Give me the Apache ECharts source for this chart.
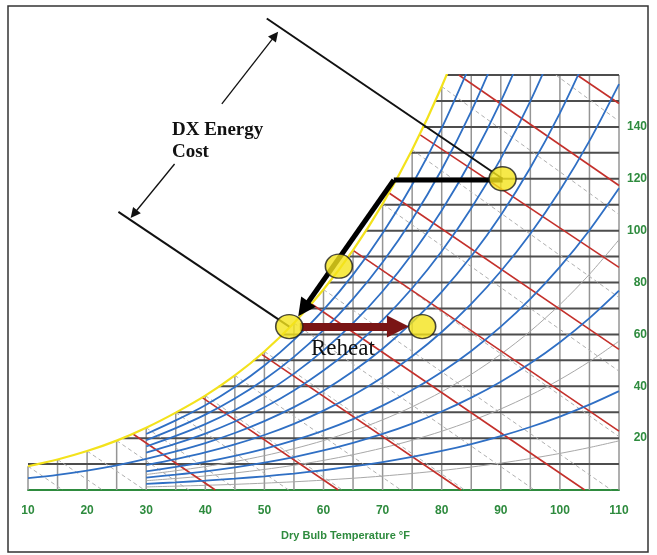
<!DOCTYPE html>
<html>
<head>
<meta charset="utf-8">
<title>Psychrometric chart – DX cooling with reheat</title>
<script src="https://cdn.jsdelivr.net/npm/echarts@6/dist/echarts.min.js"></script>
<style>
  html, body { margin: 0; padding: 0; background: #fff; }
  #chart { width: 657px; height: 555px; }
</style>
</head>
<body>
<div id="chart"></div>
<script>
// dry bulb temperatures (°F) used by the relative humidity curves
var rhTemps = [30, 35, 40, 45, 50, 55, 60, 65, 70, 75, 80, 85, 90, 95, 100, 105, 110];

// humidity ratio (grains/lb) along each blue RH curve
var rh10 = [2.39, 2.96, 3.61, 4.38, 5.28, 6.35, 7.61, 9.07, 10.78, 12.77, 15.07, 17.73, 20.79, 24.29, 28.31, 32.89, 38.10];
var rh20 = [4.78, 5.93, 7.22, 8.76, 10.58, 12.72, 15.24, 18.18, 21.62, 25.62, 30.25, 35.61, 41.77, 48.86, 56.99, 66.27, 76.86];
var rh30 = [7.18, 8.91, 10.84, 13.16, 15.89, 19.11, 22.90, 27.33, 32.51, 38.54, 45.53, 53.62, 62.97, 73.70, 86.05, 100.17, 116.32];
var rh40 = [9.57, 11.88, 14.47, 17.56, 21.21, 25.52, 30.59, 36.52, 43.46, 51.54, 60.92, 71.79, 84.35, 98.82, 115.48, 134.60, 156.49];
var rh50 = [11.97, 14.86, 18.10, 21.97, 26.54, 31.95, 38.30, 45.75, 54.46, 64.61, 76.42, 90.11, 105.96, 124.24, 145.32, 169.5];
var rh60 = [14.38, 17.85, 21.74, 26.40, 31.89, 38.39, 46.04, 55.01, 65.52, 77.77, 92.03, 108.59, 127.77, 149.94, 175.6];
var rh70 = [16.78, 20.84, 25.39, 30.83, 37.25, 44.86, 53.81, 64.32, 76.63, 91.00, 107.75, 127.22, 149.80, 175.9];
var rh80 = [19.19, 23.83, 29.04, 35.27, 42.63, 51.34, 61.61, 73.66, 87.80, 104.31, 123.58, 145.99, 172.0];
var rh90 = [21.60, 26.83, 32.69, 39.72, 48.01, 57.85, 69.43, 83.04, 99.02, 117.70, 139.52, 164.94];
// the 50% curve also runs down to 10°F
var rh50ColdT = [10, 15, 20, 25];
var rh50Cold = [4.58, 5.87, 7.49, 9.50];

// thin grey RH curves
var rh05 = [1.19, 1.48, 1.80, 2.19, 2.64, 3.17, 3.80, 4.53, 5.38, 6.37, 7.52, 8.85, 10.37, 12.11, 14.10, 16.37, 18.95];
var rh15 = [3.59, 4.45, 5.42, 6.57, 7.93, 9.54, 11.42, 13.62, 16.20, 19.18, 22.65, 26.65, 31.25, 36.54, 42.60, 49.52, 57.40];
var rh25 = [5.98, 7.42, 9.03, 10.96, 13.23, 15.92, 19.06, 22.75, 27.06, 32.07, 37.88, 44.59, 52.34, 61.24, 71.47, 83.16, 96.50];

// saturation (yellow) curve
var satTemps = [10, 15, 20, 25, 30, 35, 40, 45, 50, 55, 60, 65, 70, 75, 80, 85];
var satW = [9.17, 11.76, 15.01, 19.04, 24.01, 29.83, 36.36, 44.17, 53.41, 64.37, 77.28, 92.47, 110.30, 131.18, 155.58, 184.0];

// vertical grid lines: dry bulb and the height where each meets the saturation curve
var gridT = [10, 15, 20, 25, 30, 35, 40, 45, 50, 55, 60, 65, 70, 75, 80, 85, 90, 95, 100, 105, 110];
var gridTop = [9.17, 11.76, 15.01, 19.04, 24.01, 29.83, 36.36, 44.17, 53.41, 64.37, 77.28, 92.47, 110.3, 131.18, 155.58, 160, 160, 160, 160, 160, 160];
// horizontal grid lines: humidity ratio and the dew point where each starts
var gridW = [10, 20, 30, 40, 50, 60, 70, 80, 90, 100, 110, 120, 130, 140, 150, 160];
var gridStartT = [10, 26.0, 35.1, 42.3, 48.2, 53.0, 57.2, 60.9, 64.2, 67.1, 70.0, 72.3, 74.7, 76.8, 78.9, 80.8];

// red enthalpy lines (10..50 Btu/lb): start and end points
var enthT1 = [27.7, 39.5, 49.5, 57.8, 65.0, 71.1, 76.3, 82.9, 102.9];
var enthW1 = [21.7, 35.6, 52.4, 72.0, 92.4, 114.5, 137.0, 160, 160];
var enthT2 = [41.7, 62.5, 83.3, 104.2, 110, 110, 110, 110, 110];
var enthW2 = [0, 0, 0, 0, 22.7, 54.2, 85.8, 117.4, 149.0];

// grey dashed wet bulb lines (10..85 °F): start and end points
var wbT1 = [10, 15, 20, 25, 30, 35, 40, 45, 50, 55, 60, 65, 70, 75, 80, 99.3];
var wbW1 = [9.17, 11.76, 15.01, 19.04, 24.01, 29.83, 36.36, 44.17, 53.41, 64.37, 77.28, 92.47, 110.3, 131.18, 155.58, 160];
var wbT2 = [15.9, 22.6, 29.7, 37.2, 45.4, 54.1, 63.2, 73.1, 83.9, 95.7, 108.7, 110, 110, 110, 110, 110];
var wbW2 = [0, 0, 0, 0, 0, 0, 0, 0, 0, 0, 0, 20.6, 45.8, 74.2, 106.2, 142.2];

// process states: entering air, coil midpoint, leaving coil, after reheat
var stateT = [90.3, 62.6, 54.2, 76.7];
var stateW = [120, 86.3, 63, 63];

// cooling path: corner of the bend and arrow tip
var coolPathT = [90.3, 71.9, 56.6];
var coolPathW = [119.5, 119.5, 69.8];
// reheat arrow
var reheatT = [56.0, 72.6];
var reheatW = [63, 63];
// "DX Energy Cost" bracket lines and arrows
var dxUpperT = [50.4, 90.3], dxUpperW = [181.8, 120];
var dxLowerT = [25.3, 54.2], dxLowerW = [107.2, 63];
var dxArrowUpT = [42.8, 51.8], dxArrowUpW = [148.9, 175.2];
var dxArrowDownT = [34.8, 27.9], dxArrowDownW = [125.7, 106.4];

var xTicks = [10, 20, 30, 40, 50, 60, 70, 80, 90, 100, 110];
var yTicks = [20, 40, 60, 80, 100, 120, 140];

var GREEN = '#2e8b3e';
var series = [];

function pairs(xs, ys) {
  return ys.map(function (y, i) { return [xs[i], y]; });
}
function addLine(pts, color, width, opts) {
  opts = opts || {};
  series.push({
    type: 'line',
    data: pts,
    symbol: 'none',
    silent: true,
    smooth: opts.smooth || false,
    clip: opts.clip === undefined ? true : opts.clip,
    z: opts.z || 2,
    lineStyle: { color: color, width: width, type: opts.dash || 'solid' }
  });
}
function addArrow(xs, ys, color, width, size) {
  series.push({
    type: 'lines',
    coordinateSystem: 'cartesian2d',
    silent: true,
    clip: false,
    z: 8,
    symbol: ['none', 'triangle'],
    symbolSize: size,
    lineStyle: { color: color, width: width, opacity: 1, curveness: 0 },
    data: [{ coords: [[xs[0], ys[0]], [xs[1], ys[1]]] }]
  });
}

// grid
gridT.forEach(function (t, i) {
  addLine([[t, 0], [t, gridTop[i]]], '#959595', 1.5, { z: 1 });
});
gridW.forEach(function (w, i) {
  addLine([[gridStartT[i], w], [110, w]], '#4d4d4d', 2, { z: 1 });
});

// wet bulb lines
wbT1.forEach(function (t, i) {
  addLine([[t, wbW1[i]], [wbT2[i], wbW2[i]]], '#b0b0b0', 1, { dash: [4, 3], z: 2 });
});
// thin grey RH curves
[rh05, rh15, rh25].forEach(function (arr) {
  addLine(pairs(rhTemps, arr), '#a8a8a8', 1, { smooth: 0.3, z: 2 });
});
// enthalpy lines
enthT1.forEach(function (t, i) {
  addLine([[t, enthW1[i]], [enthT2[i], enthW2[i]]], '#c4302b', 1.6, { z: 3 });
});
// blue RH curves
addLine(pairs(rh50ColdT, rh50Cold).concat(pairs(rhTemps, rh50)), '#2f6fc4', 1.8, { smooth: 0.3, z: 4 });
[rh10, rh20, rh30, rh40, rh60, rh70, rh80, rh90].forEach(function (arr) {
  addLine(pairs(rhTemps, arr), '#2f6fc4', 1.8, { smooth: 0.3, z: 4 });
});
// saturation curve
addLine(pairs(satTemps, satW), '#f3e21c', 2.2, { smooth: 0.3, z: 5 });

// annotation lines
addLine(pairs(dxUpperT, dxUpperW), '#111', 2, { clip: false, z: 6 });
addLine(pairs(dxLowerT, dxLowerW), '#111', 2, { clip: false, z: 6 });
addArrow(dxArrowUpT, dxArrowUpW, '#111', 1.3, [7, 10]);
addArrow(dxArrowDownT, dxArrowDownW, '#111', 1.3, [7, 10]);
addLine(pairs(coolPathT.slice(0, 2), coolPathW.slice(0, 2)), '#000', 5, { clip: false, z: 7 });
addArrow(coolPathT.slice(1), coolPathW.slice(1), '#000', 5, [16, 18]);
addArrow(reheatT, reheatW, '#7a1515', 8, [23, 22]);

// process states
series.push({
  type: 'scatter',
  data: pairs(stateT, stateW),
  symbol: 'circle',
  symbolSize: [27, 24],
  silent: true,
  clip: false,
  z: 10,
  itemStyle: { color: '#f4e41c', borderColor: '#1a1a1a', borderWidth: 1.5 }
});

var chart = echarts.init(document.getElementById('chart'));
chart.setOption({
  animation: false,
  backgroundColor: '#fff',
  grid: { left: 28, right: 38, top: 75, bottom: 65 },
  xAxis: {
    type: 'value',
    min: xTicks[0],
    max: xTicks[xTicks.length - 1],
    interval: 10,
    name: 'Dry Bulb Temperature °F',
    nameLocation: 'middle',
    nameGap: 40,
    nameTextStyle: { color: GREEN, fontSize: 11, fontWeight: 'bold', fontFamily: 'Liberation Sans', padding: [0, 0, 0, 44] },
    axisLine: { lineStyle: { color: GREEN, width: 2 } },
    axisTick: { show: false },
    splitLine: { show: false },
    axisLabel: { color: GREEN, fontSize: 12, fontWeight: 'bold', fontFamily: 'Liberation Sans', margin: 15 }
  },
  yAxis: {
    type: 'value',
    position: 'right',
    min: 0,
    max: 160,
    interval: 20,
    axisLine: { show: false },
    axisTick: { show: false },
    splitLine: { show: false },
    axisLabel: {
      color: GREEN, fontSize: 12, fontWeight: 'bold', fontFamily: 'Liberation Sans',
      align: 'right', margin: 28,
      formatter: function (v) { return yTicks.indexOf(v) >= 0 ? String(v) : ''; }
    }
  },
  graphic: [
    { type: 'rect', shape: { x: 8, y: 6, width: 640, height: 546 }, style: { fill: 'none', stroke: '#333', lineWidth: 1.5 }, z: 0 },
    { type: 'text', x: 172, y: 119, z: 20, style: { text: 'DX Energy\nCost', font: 'bold 19px "Liberation Serif"', fill: '#111', lineHeight: 22 } },
    { type: 'text', x: 311, y: 337, z: 20, style: { text: 'Reheat', font: '23px "Liberation Serif"', fill: '#111' } }
  ],
  series: series
});
</script>
</body>
</html>
